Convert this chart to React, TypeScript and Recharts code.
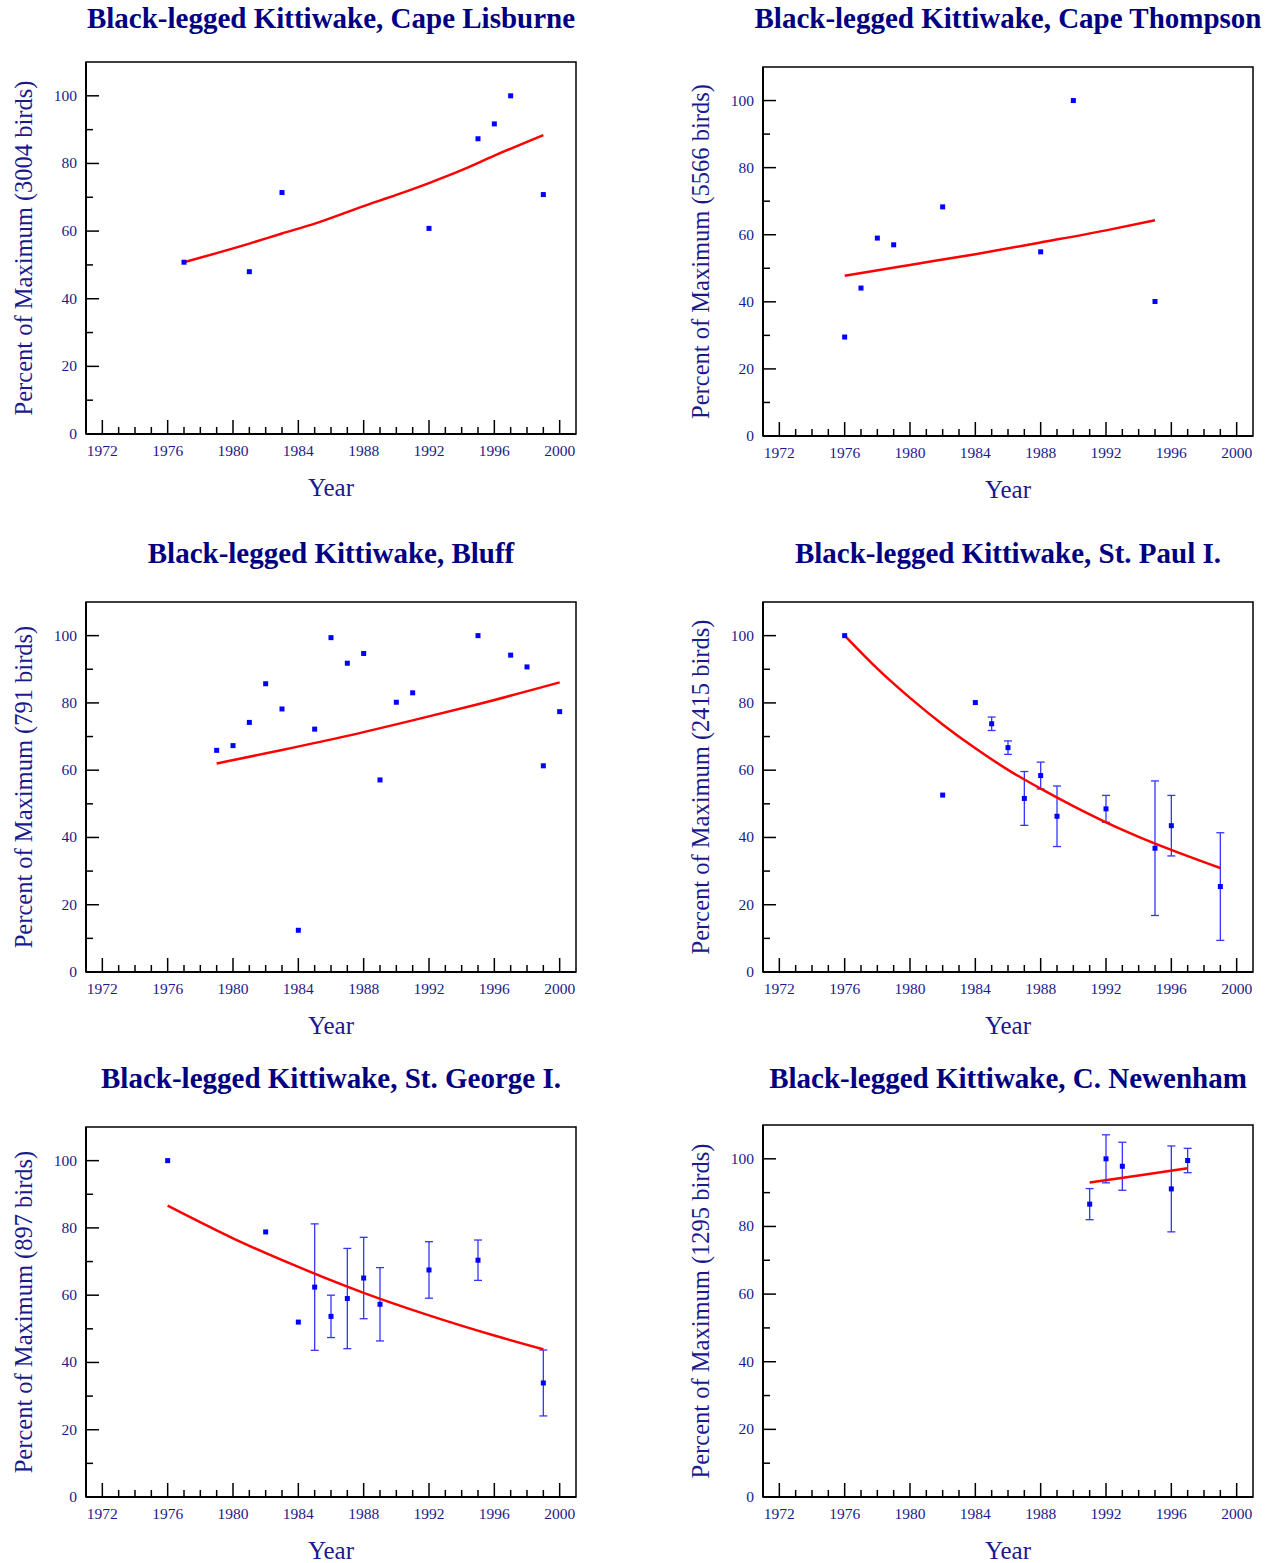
import React from 'react';
import { ComposedChart, Scatter, Line, XAxis, YAxis, ErrorBar, ReferenceArea, Label } from 'recharts';

const NAVY = '#000080';
const TEXT = '#1a1a8c';
const SERIF = '"Liberation Serif", "Times New Roman", serif';

// tick positions
const majorYears = [1972, 1976, 1980, 1984, 1988, 1992, 1996, 2000];
const yearTicks = Array.from({ length: 29 }, (_, i) => 1972 + i);
const majorPct = [0, 20, 40, 60, 80, 100];
const pctTicks = [0, 10, 20, 30, 40, 50, 60, 70, 80, 90, 100];

// Cape Lisburne
const lisburneYears = [1977, 1981, 1983, 1992, 1995, 1996, 1997, 1999];
const lisburnePct = [50.8, 48.0, 71.4, 60.8, 87.3, 91.7, 100, 70.8];
const lisburneTrendYears = [1977, 1981, 1983, 1985, 1988, 1990, 1992, 1994, 1996, 1999];
const lisburneTrendPct = [50.8, 56.3, 59.3, 62.2, 67.4, 70.7, 74.2, 78.0, 82.3, 88.4];

// Cape Thompson
const thompsonYears = [1976, 1977, 1978, 1979, 1982, 1988, 1990, 1995];
const thompsonPct = [29.5, 44.1, 59.0, 57.0, 68.3, 54.9, 100, 40.1];
const thompsonTrendYears = [1976, 1980, 1984, 1988, 1992, 1995];
const thompsonTrendPct = [47.8, 51.0, 54.2, 57.7, 61.3, 64.3];

// Bluff
const bluffYears = [1979, 1980, 1981, 1982, 1983, 1984, 1985, 1986, 1987, 1988, 1989, 1990, 1991, 1995, 1997, 1998, 1999, 2000];
const bluffPct = [65.9, 67.3, 74.2, 85.7, 78.2, 12.4, 72.2, 99.4, 91.8, 94.7, 57.1, 80.2, 83.0, 100, 94.2, 90.7, 61.3, 77.4];
const bluffTrendYears = [1979, 1983, 1987, 1991, 1995, 2000];
const bluffTrendPct = [62.0, 66.0, 70.2, 74.8, 79.6, 86.1];

// St. Paul I.
const stPaulYears = [1976, 1982, 1984, 1985, 1986, 1987, 1988, 1989, 1992, 1995, 1996, 1999];
const stPaulPct = [100, 52.6, 80.1, 73.8, 66.7, 51.6, 58.4, 46.3, 48.5, 36.8, 43.5, 25.4];
const stPaulErr = [0, 0, 0, 2, 2, 8, 4, 9, 4, 20, 9, 16];
const stPaulTrendYears = [1976, 1978, 1980, 1982, 1984, 1986, 1988, 1990, 1992, 1994, 1996, 1999];
const stPaulTrendPct = [100, 90.2, 81.5, 73.6, 66.5, 60.1, 54.5, 49.3, 44.5, 40.2, 36.3, 30.9];

// St. George I.
const stGeorgeYears = [1976, 1982, 1984, 1985, 1986, 1987, 1988, 1989, 1992, 1995, 1999];
const stGeorgePct = [100, 78.8, 52.0, 62.4, 53.7, 59.0, 65.1, 57.3, 67.5, 70.4, 33.9];
const stGeorgeErr = [0, 0, 0, 18.8, 6.3, 14.9, 12.1, 10.9, 8.4, 6.0, 9.8];
const stGeorgeTrendYears = [1976, 1980, 1984, 1988, 1992, 1996, 1999];
const stGeorgeTrendPct = [86.6, 76.9, 68.4, 60.7, 54.0, 48.0, 43.9];

// C. Newenham
const newenhamYears = [1991, 1992, 1993, 1996, 1997];
const newenhamPct = [86.6, 100, 97.8, 91.1, 99.5];
const newenhamErr = [4.6, 7.1, 7.1, 12.7, 3.6];
const newenhamTrendYears = [1991, 1994, 1997];
const newenhamTrendPct = [93.0, 95.1, 97.2];

const toPoints = (years: number[], pct: number[], err?: number[]) =>
  years.map((year, i) => ({ year, pct: pct[i], err: err ? err[i] : 0 }));

const panels = [
  { title: 'Black-legged Kittiwake, Cape Lisburne', birds: 3004, points: toPoints(lisburneYears, lisburnePct), trend: toPoints(lisburneTrendYears, lisburneTrendPct), plotX: 86, plotY: 62, plotH: 372, titleY: 18 },
  { title: 'Black-legged Kittiwake, Cape Thompson', birds: 5566, points: toPoints(thompsonYears, thompsonPct), trend: toPoints(thompsonTrendYears, thompsonTrendPct), plotX: 763, plotY: 67, plotH: 369, titleY: 18 },
  { title: 'Black-legged Kittiwake, Bluff', birds: 791, points: toPoints(bluffYears, bluffPct), trend: toPoints(bluffTrendYears, bluffTrendPct), plotX: 86, plotY: 602, plotH: 370, titleY: 553 },
  { title: 'Black-legged Kittiwake, St. Paul I.', birds: 2415, points: toPoints(stPaulYears, stPaulPct, stPaulErr), trend: toPoints(stPaulTrendYears, stPaulTrendPct), plotX: 763, plotY: 602, plotH: 370, titleY: 553 },
  { title: 'Black-legged Kittiwake, St. George I.', birds: 897, points: toPoints(stGeorgeYears, stGeorgePct, stGeorgeErr), trend: toPoints(stGeorgeTrendYears, stGeorgeTrendPct), plotX: 86, plotY: 1127, plotH: 370, titleY: 1078 },
  { title: 'Black-legged Kittiwake, C. Newenham', birds: 1295, points: toPoints(newenhamYears, newenhamPct, newenhamErr), trend: toPoints(newenhamTrendYears, newenhamTrendPct), plotX: 763, plotY: 1125, plotH: 372, titleY: 1078 },
];

const PLOT_W = 490;
const Y_W = 86;
const X_H = 70;

const XTick = (props: any) => {
  const { x, y, payload } = props;
  const major = majorYears.includes(payload.value);
  return (
    <g>
      <line x1={x} x2={x} y1={y} y2={y - (major ? 14 : 7)} stroke="#000" strokeWidth={1.5} />
      {major && (
        <text x={x} y={y + 22} textAnchor="middle" fontSize={15.5} fill={TEXT} fontFamily={SERIF}>
          {payload.value}
        </text>
      )}
    </g>
  );
};

const YTick = (props: any) => {
  const { x, y, payload } = props;
  const major = majorPct.includes(payload.value);
  return (
    <g>
      <line x1={x} x2={x + (major ? 13 : 7)} y1={y} y2={y} stroke="#000" strokeWidth={1.5} />
      {major && (
        <text x={x - 9} y={y + 5} textAnchor="end" fontSize={15.5} fill={TEXT} fontFamily={SERIF}>
          {payload.value}
        </text>
      )}
    </g>
  );
};

const Square = (props: any) => {
  const { cx, cy } = props;
  if (cx == null || cy == null) return null;
  return <rect x={cx - 2.5} y={cy - 2.5} width={5} height={5} fill="#0000ff" />;
};

function Panel({ p }: { p: (typeof panels)[number] }) {
  const height = 2 + p.plotH + X_H;
  return (
    <>
      <div
        style={{
          position: 'absolute',
          left: p.plotX - 60,
          width: PLOT_W + 120,
          top: p.titleY - 17,
          lineHeight: '34px',
          textAlign: 'center',
          fontFamily: SERIF,
          fontWeight: 'bold',
          fontSize: 29,
          color: NAVY,
          whiteSpace: 'nowrap',
        }}
      >
        {p.title}
      </div>
      <div style={{ position: 'absolute', left: p.plotX - Y_W, top: p.plotY - 2 }}>
        <ComposedChart width={Y_W + PLOT_W + 12} height={height} margin={{ top: 2, right: 12, bottom: 0, left: 0 }}>
          <XAxis
            type="number"
            dataKey="year"
            domain={[1971, 2001]}
            ticks={yearTicks}
            interval={0}
            tickLine={false}
            tickSize={0}
            tickMargin={0}
            tick={<XTick />}
            axisLine={{ stroke: '#000', strokeWidth: 2 }}
            height={X_H}
          >
            <Label
              content={(lp: any) => {
                const vb = lp.viewBox || {};
                return (
                  <text x={vb.x + vb.width / 2} y={vb.y + 62} textAnchor="middle" fontSize={25} fill={TEXT} fontFamily={SERIF}>
                    Year
                  </text>
                );
              }}
            />
          </XAxis>
          <YAxis
            type="number"
            domain={[0, 110]}
            ticks={pctTicks}
            interval={0}
            tickLine={false}
            tickSize={0}
            tickMargin={0}
            tick={<YTick />}
            axisLine={{ stroke: '#000', strokeWidth: 2 }}
            width={Y_W}
          >
            <Label
              content={(lp: any) => {
                const vb = lp.viewBox || {};
                const cx = vb.x + 23;
                const cy = vb.y + vb.height / 2;
                return (
                  <text
                    x={cx}
                    y={cy}
                    transform={`rotate(-90, ${cx}, ${cy})`}
                    textAnchor="middle"
                    dominantBaseline="central"
                    fontSize={24.5}
                    fill={TEXT}
                    fontFamily={SERIF}
                  >
                    {`Percent of Maximum (${p.birds} birds)`}
                  </text>
                );
              }}
            />
          </YAxis>
          <ReferenceArea x1={1971} x2={2001} y1={0} y2={110} fill="none" stroke="#000" strokeWidth={1.5} />
          <Scatter data={p.points} dataKey="pct" shape={<Square />} isAnimationActive={false}>
            <ErrorBar dataKey="err" direction="y" width={4} stroke="#3535ff" strokeWidth={1.3} />
          </Scatter>
          <Line
            data={p.trend}
            dataKey="pct"
            type="monotone"
            stroke="#ff0000"
            strokeWidth={2.5}
            dot={false}
            activeDot={false}
            isAnimationActive={false}
          />
        </ComposedChart>
      </div>
    </>
  );
}

export default function App() {
  return (
    <div style={{ position: 'absolute', left: 0, top: 0, width: 1267, height: 1563, background: '#fff' }}>
      {panels.map((p) => (
        <Panel key={p.title} p={p} />
      ))}
    </div>
  );
}
